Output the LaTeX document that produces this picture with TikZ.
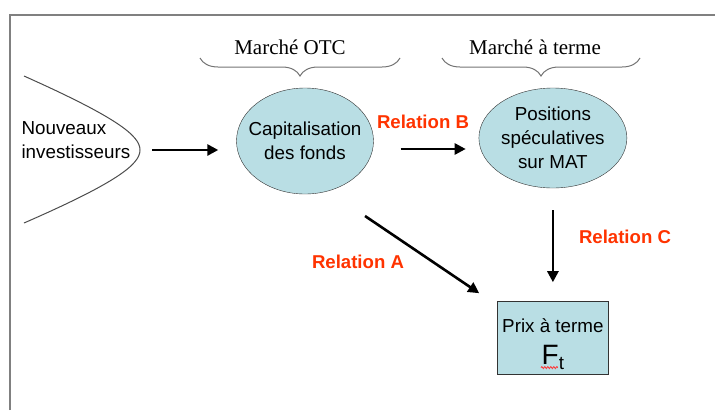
\documentclass[tikz,border=0pt]{standalone}
\usepackage{fontspec}
\setmainfont{Liberation Serif}
\setsansfont{Liberation Sans}
\usepackage{tikz}
\usetikzlibrary{positioning,calc,arrows.meta,shapes.geometric}
\usetikzlibrary{decorations.pathreplacing,decorations.pathmorphing}
\definecolor{bulle}{RGB}{185,222,228}
\definecolor{rouge}{RGB}{255,51,0}

\begin{document}
\begin{tikzpicture}[x=1pt,y=-1pt,
  every node/.style={font=\sffamily\fontsize{18.8}{24}\selectfont},
  bulle/.style={ellipse,draw=black!80,fill=bulle,inner sep=0pt},
  lien/.style={line width=2.6pt,-{Triangle[length=11pt,width=11pt]}},
  rel/.style={text=rouge,font=\sffamily\bfseries\fontsize{18.6}{22}\selectfont},
  marche/.style={font=\rmfamily\fontsize{21}{24}\selectfont},
  accolade/.style={draw=black!55,line width=1pt,decorate,decoration={brace,mirror,amplitude=18pt}}]
  \useasboundingbox (0,0) rectangle (715,410);
  \draw[black!50,line width=1.5pt] (10,410) -- (10,15) -- (715,15);
  % investisseurs
  \node[anchor=west,align=left] (inv) at (18,140) {Nouveaux\\investisseurs};
  \coordinate (pointe) at (140,150);
  \draw[black!70,line width=1pt] (24,76) .. controls (118,118) and (140,136) .. (pointe)
     .. controls (140,164) and (118,182) .. (24,223);
  % bulles
  \node[bulle,minimum width=137pt,minimum height=106pt,
        label={[align=center]center:Capitalisation\\des fonds}] (cap) at (305,141) {};
  \node[bulle,minimum width=148pt,minimum height=100pt,right=105pt of cap,yshift=3pt,
        label={[align=center]center:Positions\\spéculatives\\sur MAT}] (pos) {};
  \node[draw=black!80,fill=bulle,minimum width=111pt,minimum height=73pt,below=113pt of pos,
        label={[align=center,yshift=-6pt]center:Prix à terme\\[8pt]{\fontsize{28}{28}\selectfont F}\raisebox{-5pt}{t}}] (prix) {};
  \draw[red!80,line width=0.8pt,decorate,decoration={snake,amplitude=1pt,segment length=3pt}]
     ($(prix.south)+(-12,-7)$) -- ++(17,0);
  % marches
  \draw[accolade] (200,58) -- (400,58);
  \draw[accolade] (442,58) -- (640,58);
  \node[marche] (otc) at (290,47) {Marché OTC};
  \node[marche] (mat) at (535,47) {Marché à terme};
  % fleches
  \draw[lien,shorten <=12pt,shorten >=18pt] (pointe) -- (pointe -| cap.west);
  \draw[lien,shorten <=27pt,shorten >=13pt] ($(cap.east)+(0,8)$) -- ($(pos.west)+(0,11)$);
  \draw[lien,shorten <=22pt,shorten >=19pt] (pos.south) -- (prix.north);
  \draw[lien] ($(cap)+(60,75)$) -- ($(prix.north west)+(-18,-8)$);
  \node[rel] (relB) at (423,122) {Relation B};
  \node[rel] (relA) at (358,262) {Relation A};
  \node[rel] (relC) at (625,237) {Relation C};
\end{tikzpicture}
\end{document}
